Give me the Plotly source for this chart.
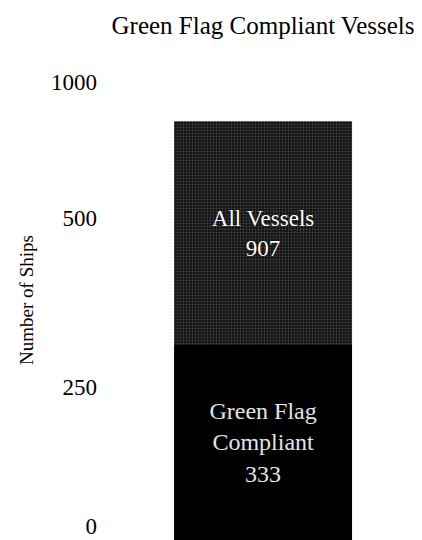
import numpy as np
import plotly.graph_objects as go

# Data
series_names = ["All Vessels", "Green Flag Compliant"]
ship_counts = [907, 333]
tick_values = [0, 250, 500, 1000]
tick_labels = ["0", "250", "500", "1000"]

# Piecewise-linear y scale: each labelled value gets its own slot on the axis
axis_breaks = [0, 139, 308, 444]


def scale(v):
    return float(np.interp(v, tick_values, axis_breaks))


all_top = scale(ship_counts[0])
green_top = scale(ship_counts[1])

FONT = "Liberation Serif"
category = ["Vessels"]

fig = go.Figure()

# Textured grey bar: all vessels (visible part above the compliant bar)
fig.add_trace(go.Bar(
    x=category,
    y=[all_top - green_top],
    base=[green_top],
    width=1,
    marker=dict(
        color="#202020",
        line=dict(width=0),
        pattern=dict(shape=".", fgcolor="#7a7a7a", bgcolor="#121212",
                     size=3, solidity=0.3),
    ),
    text=[f"{series_names[0]}<br>{ship_counts[0]}"],
    textposition="inside",
    insidetextanchor="middle",
    textangle=0,
    textfont=dict(family=FONT, size=23, color="white",
                  shadow="0px 0px 2px black"),
    hoverinfo="skip",
))

# Solid black bar: green flag compliant vessels
fig.add_trace(go.Bar(
    x=category,
    y=[green_top],
    base=[0],
    width=1,
    marker=dict(color="black", line=dict(width=0)),
    text=["Green Flag<br>Compliant<br>" + str(ship_counts[1])],
    textposition="inside",
    insidetextanchor="middle",
    textangle=0,
    textfont=dict(family=FONT, size=24, color="#e4e4e4"),
    hoverinfo="skip",
))

fig.update_layout(
    width=422,
    height=540,
    margin=dict(l=110, r=0, t=60, b=0),
    paper_bgcolor="white",
    plot_bgcolor="white",
    showlegend=False,
    barmode="overlay",
    uniformtext=dict(mode=False),
    title=dict(
        text="Green Flag Compliant Vessels",
        font=dict(family=FONT, size=25, color="black"),
        x=263 / 422,
        xanchor="center",
        y=1 - 25 / 540,
        yanchor="middle",
    ),
    xaxis=dict(
        range=[-0.86, 0.893],
        showticklabels=False,
        showgrid=False,
        zeroline=False,
        showline=False,
        ticks="",
    ),
    yaxis=dict(
        range=[0, 480],
        tickvals=axis_breaks,
        ticktext=tick_labels,
        ticklabelshift=-14,
        ticklabelstandoff=12,
        ticklabeloverflow="allow",
        tickfont=dict(family=FONT, size=23, color="black"),
        showgrid=False,
        zeroline=False,
        showline=False,
        ticks="",
        automargin=False,
        title=dict(
            text="Number of Ships",
            font=dict(family=FONT, size=19, color="black"),
            standoff=12,
        ),
    ),
)

fig.write_html("out.html")
